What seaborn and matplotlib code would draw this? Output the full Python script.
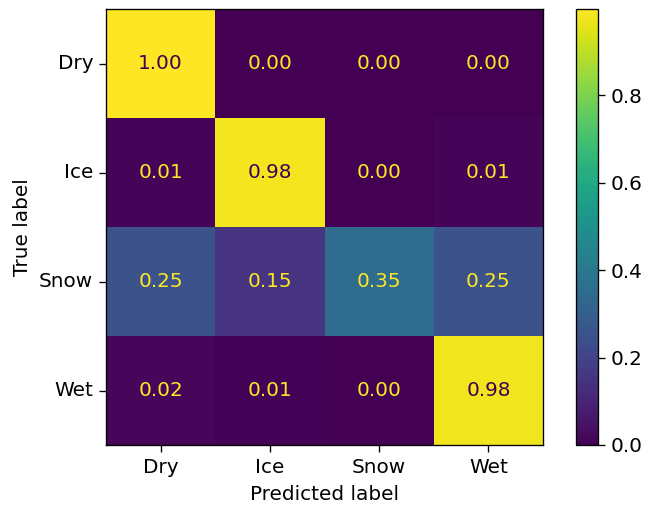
import numpy as np
import pandas as pd
import seaborn as sns
import matplotlib
matplotlib.use("Agg")
import matplotlib.pyplot as plt

classes = ["Dry", "Ice", "Snow", "Wet"]
row_dry = [0.997, 0.001, 0.001, 0.001]
row_ice = [0.010, 0.980, 0.001, 0.009]
row_snow = [0.250, 0.150, 0.350, 0.250]
row_wet = [0.018, 0.006, 0.000, 0.976]

cm = pd.DataFrame([row_dry, row_ice, row_snow, row_wet], index=classes, columns=classes)

dpi = 120
fs = 12
fig = plt.figure(figsize=(647 / dpi, 508 / dpi), dpi=dpi)
ax = fig.add_axes([106 / 647, 1 - 445 / 508, 437 / 647, 436 / 508])
cax = fig.add_axes([576 / 647, 1 - 445 / 508, 22 / 647, 436 / 508])

cmap = plt.get_cmap("viridis")
sns.heatmap(cm, ax=ax, cbar_ax=cax, cmap=cmap, annot=True, fmt=".2f",
            vmin=cm.values.min(), vmax=cm.values.max(),
            annot_kws={"fontsize": fs}, square=False)

# text colour switches between the two ends of the colormap
thresh = (cm.values.max() + cm.values.min()) / 2.0
lo, hi = cmap(0.0), cmap(1.0)
for txt, val in zip(ax.texts, cm.values.ravel()):
    txt.set_color(lo if val >= thresh else hi)

for s in ax.spines.values():
    s.set_visible(True)
    s.set_linewidth(0.8)
    s.set_color("black")

ax.tick_params(axis="both", length=4.2, width=0.8, labelsize=fs, color="black")
ax.set_yticklabels(classes, rotation=0)
ax.set_xticklabels(classes, rotation=0)
ax.set_xlabel("Predicted label", fontsize=fs, labelpad=5)
ax.set_ylabel("True label", fontsize=fs)

cbar = ax.collections[0].colorbar
cbar.set_ticks([0.0, 0.2, 0.4, 0.6, 0.8])
cbar.set_ticklabels(["0.0", "0.2", "0.4", "0.6", "0.8"])
cax.tick_params(length=4.2, width=0.8, labelsize=fs)
cbar.outline.set_visible(True)
cbar.outline.set_linewidth(0.8)
cbar.outline.set_edgecolor("black")

fig.savefig("out.png", dpi=dpi)
